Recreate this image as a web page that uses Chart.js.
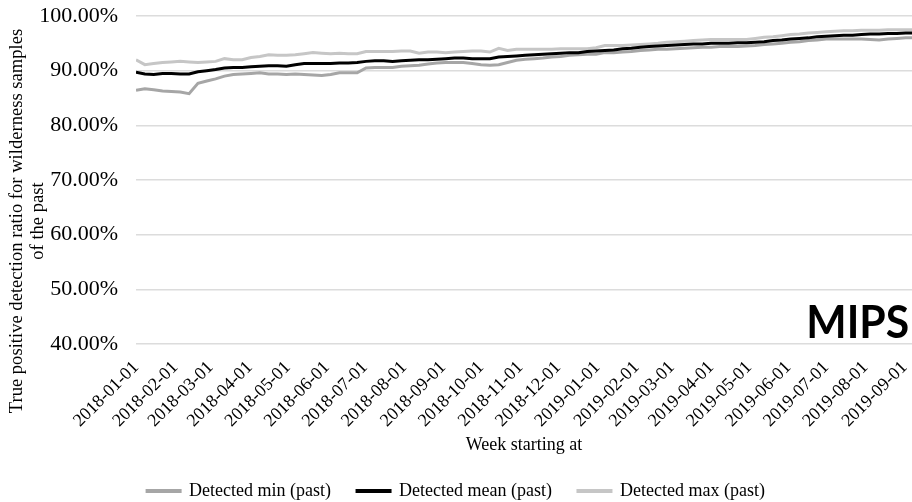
<!DOCTYPE html>
<html>
<head>
<meta charset="utf-8">
<script src="https://cdn.jsdelivr.net/npm/chart.js@4/dist/chart.umd.min.js"></script>
<style>
  html, body { margin: 0; padding: 0; background: #fff; }
  #wrap { width: 912px; height: 502px; }
</style>
</head>
<body>
<div id="wrap"><canvas id="c" width="912" height="502"></canvas></div>
<script>
// Week start dates (one sample per week)
const weekStarts = [
  '2018-01-01','2018-01-08','2018-01-15','2018-01-22','2018-01-29',
  '2018-02-05','2018-02-12','2018-02-19','2018-02-26',
  '2018-03-05','2018-03-12','2018-03-19','2018-03-26',
  '2018-04-02','2018-04-09','2018-04-16','2018-04-23','2018-04-30',
  '2018-05-07','2018-05-14','2018-05-21','2018-05-28',
  '2018-06-04','2018-06-11','2018-06-18','2018-06-25',
  '2018-07-02','2018-07-09','2018-07-16','2018-07-23','2018-07-30',
  '2018-08-06','2018-08-13','2018-08-20','2018-08-27',
  '2018-09-03','2018-09-10','2018-09-17','2018-09-24',
  '2018-10-01','2018-10-08','2018-10-15','2018-10-22','2018-10-29',
  '2018-11-05','2018-11-12','2018-11-19','2018-11-26',
  '2018-12-03','2018-12-10','2018-12-17','2018-12-24','2018-12-31',
  '2019-01-07','2019-01-14','2019-01-21','2019-01-28',
  '2019-02-04','2019-02-11','2019-02-18','2019-02-25',
  '2019-03-04','2019-03-11','2019-03-18','2019-03-25',
  '2019-04-01','2019-04-08','2019-04-15','2019-04-22','2019-04-29',
  '2019-05-06','2019-05-13','2019-05-20','2019-05-27',
  '2019-06-03','2019-06-10','2019-06-17','2019-06-24',
  '2019-07-01','2019-07-08','2019-07-15','2019-07-22','2019-07-29',
  '2019-08-05','2019-08-12','2019-08-19','2019-08-26',
  '2019-09-02','2019-09-09'
];

// True positive detection ratio (%), per week
const detectedMin = [
  86.4, 86.7, 86.5, 86.3, 86.2, 86.1, 85.8, 87.7, 88.1, 88.5,
  89.0, 89.3, 89.4, 89.5, 89.6, 89.4, 89.4, 89.3, 89.4, 89.3,
  89.2, 89.1, 89.3, 89.6, 89.6, 89.6, 90.5, 90.6, 90.6, 90.6,
  90.8, 90.9, 91.0, 91.2, 91.4, 91.5, 91.5, 91.5, 91.3, 91.1,
  91.0, 91.1, 91.5, 91.9, 92.1, 92.2, 92.3, 92.5, 92.6, 92.8,
  92.9, 93.0, 93.0, 93.3, 93.3, 93.4, 93.5, 93.7, 93.8, 93.9,
  93.9, 94.0, 94.1, 94.2, 94.3, 94.3, 94.4, 94.4, 94.4, 94.5,
  94.6, 94.8, 94.9, 95.0, 95.2, 95.3, 95.5, 95.6, 95.8, 95.8,
  95.8, 95.8, 95.8, 95.7, 95.6, 95.8, 95.9, 96.0, 96.0
];
const detectedMean = [
  89.7, 89.4, 89.3, 89.5, 89.5, 89.4, 89.4, 89.8, 90.0, 90.2,
  90.5, 90.6, 90.6, 90.7, 90.8, 90.9, 90.9, 90.8, 91.1, 91.3,
  91.3, 91.3, 91.3, 91.4, 91.4, 91.5, 91.7, 91.8, 91.8, 91.7,
  91.8, 91.9, 92.0, 92.0, 92.1, 92.2, 92.3, 92.3, 92.2, 92.2,
  92.2, 92.5, 92.6, 92.7, 92.8, 92.9, 93.0, 93.1, 93.2, 93.3,
  93.3, 93.5, 93.6, 93.7, 93.8, 94.0, 94.1, 94.3, 94.4, 94.5,
  94.6, 94.7, 94.8, 94.9, 94.9, 95.0, 95.0, 95.0, 95.1, 95.1,
  95.2, 95.3, 95.5, 95.6, 95.8, 95.9, 96.0, 96.2, 96.3, 96.4,
  96.5, 96.5, 96.6, 96.7, 96.7, 96.8, 96.8, 96.9, 96.9
];
const detectedMax = [
  92.0, 91.1, 91.3, 91.5, 91.6, 91.7, 91.6, 91.5, 91.6, 91.7,
  92.2, 92.0, 92.0, 92.4, 92.6, 92.9, 92.8, 92.8, 92.9, 93.1,
  93.3, 93.2, 93.1, 93.2, 93.1, 93.1, 93.5, 93.5, 93.5, 93.5,
  93.6, 93.6, 93.2, 93.4, 93.4, 93.3, 93.4, 93.5, 93.6, 93.6,
  93.4, 94.1, 93.7, 93.9, 93.9, 93.9, 93.9, 93.9, 94.0, 94.0,
  94.0, 94.0, 94.2, 94.6, 94.6, 94.6, 94.7, 94.8, 94.9, 95.0,
  95.2, 95.3, 95.4, 95.5, 95.6, 95.7, 95.7, 95.7, 95.7, 95.7,
  95.9, 96.1, 96.2, 96.4, 96.6, 96.7, 96.9, 97.0, 97.1, 97.2,
  97.3, 97.3, 97.4, 97.4, 97.4, 97.5, 97.5, 97.5, 97.5
];

// Month-start tick labels on the date axis
const monthLabels = [
  '2018-01-01','2018-02-01','2018-03-01','2018-04-01','2018-05-01',
  '2018-06-01','2018-07-01','2018-08-01','2018-09-01','2018-10-01',
  '2018-11-01','2018-12-01','2019-01-01','2019-02-01','2019-03-01',
  '2019-04-01','2019-05-01','2019-06-01','2019-07-01','2019-08-01',
  '2019-09-01'
];

const seriesNames = ['Detected min (past)', 'Detected mean (past)', 'Detected max (past)'];
const yTitleLines = ['True positive detection ratio for wilderness samples', 'of the past'];
const xTitle = 'Week starting at';
const badgeText = 'MIPS';

// Dates are placed on a linear axis measured in days from the first week
const DAY = 86400000;
const origin = Date.parse(weekStarts[0]);
const toDay = s => (Date.parse(s) - origin) / DAY;
const monthDays = monthLabels.map(toDay);
const dayToLabel = new Map(monthDays.map((d, i) => [d, monthLabels[i]]));
const points = vals => weekStarts.map((w, i) => ({ x: toDay(w), y: vals[i] }));

const SERIF = '"Liberation Serif", "Times New Roman", serif';

// Rotated two-line y-axis title
const yTitlePlugin = {
  id: 'yTitle',
  afterDraw(chart) {
    const ctx = chart.ctx;
    ctx.save();
    ctx.font = '18.6px ' + SERIF;
    ctx.fillStyle = '#000';
    ctx.textAlign = 'center';
    ctx.textBaseline = 'middle';
    const cy = 221;
    [17, 38].forEach((x, i) => {
      ctx.save();
      ctx.translate(x, cy);
      ctx.rotate(-Math.PI / 2);
      ctx.fillText(yTitleLines[i], 0, 0);
      ctx.restore();
    });
    ctx.restore();
  }
};

// Bold badge in the lower right corner of the plot
const badgePlugin = {
  id: 'badge',
  afterDraw(chart) {
    const { ctx, chartArea } = chart;
    ctx.save();
    ctx.font = 'bold 48px Lato, "Open Sans", sans-serif';
    ctx.fillStyle = '#000';
    ctx.textAlign = 'left';
    ctx.textBaseline = 'alphabetic';
    const m = ctx.measureText(badgeText);
    const w = m.actualBoundingBoxRight + m.actualBoundingBoxLeft;
    const h = m.actualBoundingBoxAscent;
    const targetW = 99, targetH = 34;
    const sx = targetW / w, sy = targetH / h;
    const right = chartArea.right - 4;
    const baseline = chartArea.bottom - 6;
    ctx.translate(right - targetW, baseline);
    ctx.scale(sx, sy);
    ctx.fillText(badgeText, m.actualBoundingBoxLeft, 0);
    ctx.restore();
  }
};

const lineColors = ['#a6a6a6', '#000000', '#c6c6c6'];
const seriesValues = [detectedMin, detectedMean, detectedMax];

new Chart(document.getElementById('c'), {
  type: 'line',
  data: {
    datasets: seriesValues.map((vals, i) => ({
      label: seriesNames[i],
      data: points(vals),
      borderColor: lineColors[i],
      backgroundColor: lineColors[i],
      borderWidth: 3,
      pointRadius: 0,
      tension: 0,
      order: i === 1 ? 0 : (i === 0 ? 1 : 2)
    }))
  },
  options: {
    responsive: false,
    animation: false,
    devicePixelRatio: 1,
    layout: { padding: { left: 0, right: 0, top: 16, bottom: -8 } },
    plugins: {
      legend: {
        position: 'bottom',
        labels: {
          font: { family: SERIF, size: 18 },
          color: '#000',
          boxWidth: 33,
          boxHeight: 1,
          padding: 26,
          sort: (a, b) => a.datasetIndex - b.datasetIndex
        }
      },
      tooltip: { enabled: false }
    },
    scales: {
      x: {
        type: 'linear',
        min: 0,
        max: 614,
        afterBuildTicks(scale) {
          scale.ticks = monthDays.map(v => ({ value: v }));
        },
        afterFit(scale) {
          scale.height = 112;
          scale.paddingLeft = 0;
          scale.paddingRight = 0;
        },
        grid: { display: false, drawTicks: false },
        border: { display: false },
        ticks: {
          autoSkip: false,
          maxRotation: 45,
          minRotation: 45,
          padding: 13,
          color: '#000',
          font: { family: SERIF, size: 18 },
          callback: v => dayToLabel.get(v) || ''
        },
        title: {
          display: true,
          text: xTitle,
          color: '#000',
          font: { family: SERIF, size: 18 },
          padding: { top: 0, bottom: 0 }
        }
      },
      y: {
        min: 40,
        max: 100,
        afterFit(scale) {
          scale.width = 136;
          scale.paddingTop = 0;
          scale.paddingBottom = 0;
        },
        grid: { color: '#dcdcdc', lineWidth: 1.5, drawTicks: false },
        border: { display: false },
        ticks: {
          stepSize: 10,
          padding: 18,
          color: '#000',
          font: { family: SERIF, size: 22 },
          callback: v => v.toFixed(2) + '%'
        }
      }
    }
  },
  plugins: [yTitlePlugin, badgePlugin]
});
</script>
</body>
</html>
